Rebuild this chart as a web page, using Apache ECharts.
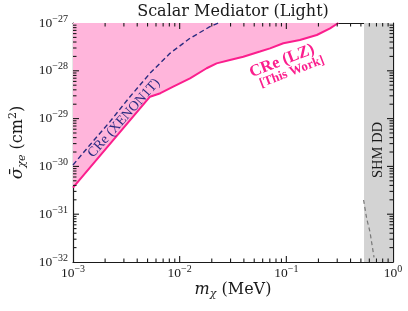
<!DOCTYPE html>
<html><head><meta charset="utf-8">
<script src="https://cdn.jsdelivr.net/npm/echarts@6/dist/echarts.min.js"></script>
<style>html,body{margin:0;padding:0;background:#fff}#c{width:408px;height:311px}</style>
</head><body><div id="c"></div>
<script>
// ---- data ----
// x: m_chi in MeV ; y: sigma_chi_e in cm^2
const lzMass   = [1e-3, 5.27e-3, 6.6e-3, 8.7e-3, 1.25e-2, 1.79e-2, 2.22e-2, 2.96e-2, 3.95e-2, 5.66e-2, 7.03e-2, 9.37e-2, 0.134, 0.193, 0.257, 0.307];
const lzSigma  = [3.58e-31, 2.87e-29, 3.4e-29, 4.65e-29, 6.97e-29, 1.13e-28, 1.43e-28, 1.68e-28, 1.97e-28, 2.53e-28, 2.95e-28, 3.76e-28, 4.41e-28, 5.61e-28, 7.75e-28, 1e-27];
const xenonMass  = [1e-3, 1.44e-3, 2.22e-3, 3.42e-3, 5.27e-3, 8.11e-3, 1.25e-2, 1.92e-2, 2.30e-2];
const xenonSigma = [1.07e-30, 2.81e-30, 8.62e-30, 2.87e-29, 8.87e-29, 2.32e-28, 4.79e-28, 8.37e-28, 1e-27];
const shmMass  = [0.53, 0.566, 0.608, 0.664];
const shmSigma = [1.98e-31, 8.2e-32, 4.3e-32, 1.25e-32];
const shmBand  = [0.535, 1];
const xTickExps = [-3, -2, -1, 0];
const yTickExps = [-32, -31, -30, -29, -28, -27];
const minorMult = [2, 3, 4, 5, 6, 7, 8, 9];

// y axis is plotted in units of 1e-32 cm^2 (avoids float rounding of tiny log ticks); labels show true exponents
const Y_EXP0 = yTickExps[0];
const Y_UNIT = Math.pow(10, Y_EXP0);
const ys = v => v / Y_UNIT;

const xMajor = xTickExps.map(e => Math.pow(10, e));
const yMajor = yTickExps.map(e => Math.pow(10, e - Y_EXP0));
const xMinor = [];
xTickExps.slice(0, -1).forEach(e => minorMult.forEach(m => xMinor.push(m * Math.pow(10, e))));
const yMinor = [];
yTickExps.slice(0, -1).forEach(e => minorMult.forEach(m => yMinor.push(m * Math.pow(10, e - Y_EXP0))));

const serif = '"Liberation Serif", "DejaVu Serif", serif';
const dserif = '"DejaVu Serif", "Liberation Serif", serif';
const ink = '#1a1a1a';
const pink = '#fb1e8d';
function expStr(e) { return e < 0 ? '\u2212' + (-e) : String(e); }
function xLabel(v) { return '10{sup|' + expStr(Math.round(Math.log10(v))) + '}'; }
function yLabel(v) { return '10{sup|' + expStr(Math.round(Math.log10(v)) + Y_EXP0) + '}'; }
const labelRich = { sup: { fontSize: 10, lineHeight: 10, verticalAlign: 'top', fontFamily: serif, color: ink } };

function zip(a, b) { return a.map((v, i) => [v, ys(b[i])]); }

function axisCommon(pos, show, fmt, margin) {
  return {
    type: 'log', logBase: 10, position: pos, gridIndex: 0, nameMoveOverlap: false,
    axisLine: { show: true, onZero: false, lineStyle: { color: ink, width: 1.2 } },
    axisTick: { show: false },
    axisLabel: { show: show, formatter: fmt, margin: margin, fontFamily: serif, fontSize: 13.5, color: ink, lineHeight: 18, rich: labelRich },
    splitLine: { show: false }, minorTick: { show: false }
  };
}
function xAxisDef(pos, show) {
  const a = axisCommon(pos, show, xLabel, 2);
  a.min = xMajor[0]; a.max = xMajor[xMajor.length - 1];
  return a;
}
function yAxisDef(pos, show) {
  const a = axisCommon(pos, show, yLabel, 5);
  a.min = yMajor[0]; a.max = yMajor[yMajor.length - 1];
  return a;
}

const xa0 = xAxisDef('bottom', true);
xa0.name = '{i|m}{sub|\u03c7} (MeV)';
xa0.nameLocation = 'middle';
xa0.nameGap = 18;
xa0.nameTextStyle = { fontFamily: dserif, fontSize: 16, color: ink, lineHeight: 20,
  rich: { i: { fontFamily: dserif, fontSize: 16, fontStyle: 'italic', color: ink, lineHeight: 20 },
          sub: { fontFamily: dserif, fontSize: 11, fontStyle: 'italic', color: ink, lineHeight: 11, verticalAlign: 'bottom' } } };

const ya0 = yAxisDef('left', true);
ya0.name = '{i|\u03c3\u0304}{sub|\u03c7e} (cm{sup|2})';
ya0.nameLocation = 'middle';
ya0.nameGap = 45;
ya0.nameRotate = 90;
ya0.nameTextStyle = { fontFamily: dserif, fontSize: 16, color: ink, lineHeight: 20,
  rich: { i: { fontFamily: dserif, fontSize: 17, fontStyle: 'italic', color: ink, lineHeight: 20 },
          sub: { fontFamily: dserif, fontSize: 11, fontStyle: 'italic', color: ink, lineHeight: 11, verticalAlign: 'bottom' },
          sup: { fontFamily: dserif, fontSize: 11, color: ink, lineHeight: 11, verticalAlign: 'top' } } };

function tickRenderer(params, api) {
  const cs = params.coordSys;
  const ch = [];
  const yRef = yMajor[2], xRef = xMajor[1];
  function addX(v, L) {
    const px = api.coord([v, yRef])[0];
    ch.push({ type: 'line', shape: { x1: px, y1: cs.y + cs.height, x2: px, y2: cs.y + cs.height - L }, style: { stroke: ink, lineWidth: 1.1 } });
    ch.push({ type: 'line', shape: { x1: px, y1: cs.y, x2: px, y2: cs.y + L }, style: { stroke: ink, lineWidth: 1.1 } });
  }
  function addY(v, L) {
    const py = api.coord([xRef, v])[1];
    ch.push({ type: 'line', shape: { x1: cs.x, y1: py, x2: cs.x + L, y2: py }, style: { stroke: ink, lineWidth: 1.1 } });
    ch.push({ type: 'line', shape: { x1: cs.x + cs.width, y1: py, x2: cs.x + cs.width - L, y2: py }, style: { stroke: ink, lineWidth: 1.1 } });
  }
  xMajor.slice(1, -1).forEach(v => addX(v, 6));
  xMinor.forEach(v => addX(v, 3.5));
  yMajor.slice(1, -1).forEach(v => addY(v, 6));
  yMinor.forEach(v => addY(v, 3.5));
  return { type: 'group', children: ch };
}

const option = {
  animation: false,
  backgroundColor: '#fff',
  grid: { left: 73, right: 15, top: 23, bottom: 49, containLabel: false, outerBoundsMode: 'none' },
  xAxis: [xa0, xAxisDef('top', false)],
  yAxis: [ya0, yAxisDef('right', false)],
  graphic: [
    { type: 'text', x: 233, y: 12, z: 20, style: { text: 'Scalar Mediator (Light)', font: '16px ' + dserif, fill: ink, align: 'center', verticalAlign: 'middle' } },
    { type: 'text', x: 124, y: 118, rotation: 48 * Math.PI / 180, z: 20, style: { text: 'CRe (XENON1T)', font: '13.8px ' + serif, fill: '#2b2b80', align: 'center', verticalAlign: 'middle' } },
    { type: 'text', x: 282, y: 61, rotation: 21 * Math.PI / 180, z: 20, style: { text: 'CRe (LZ)', font: 'bold 16.5px ' + serif, fill: pink, align: 'center', verticalAlign: 'middle' } },
    { type: 'text', x: 292, y: 72, rotation: 21 * Math.PI / 180, z: 20, style: { text: '[This Work]', font: 'bold 13px ' + serif, fill: pink, align: 'center', verticalAlign: 'middle' } },
    { type: 'text', x: 378, y: 150, rotation: Math.PI / 2, z: 20, style: { text: 'SHM DD', font: '14.5px ' + serif, fill: ink, align: 'center', verticalAlign: 'middle' } }
  ],
  series: [
    { name: 'LZ', type: 'line', data: zip(lzMass, lzSigma), showSymbol: false, symbol: 'none', z: 3,
      lineStyle: { color: pink, width: 2 }, areaStyle: { color: '#ffb5db', opacity: 1, origin: ys(1e-27) } },
    { name: 'SHMband', type: 'line', data: [], showSymbol: false, symbol: 'none', z: 3,
      markArea: { silent: true, itemStyle: { color: '#d3d3d3', opacity: 1 }, data: [[{ xAxis: shmBand[0] }, { xAxis: shmBand[1] }]] } },
    { name: 'ticks', type: 'custom', clip: false, z: 10, silent: true, data: [[xMajor[1], yMajor[2]]], renderItem: tickRenderer },
    { name: 'XENON1T', type: 'line', data: zip(xenonMass, xenonSigma), showSymbol: false, symbol: 'none', z: 12,
      lineStyle: { color: '#2b2b80', width: 1.4, type: [5, 3] } },
    { name: 'SHM', type: 'line', data: zip(shmMass, shmSigma), showSymbol: false, symbol: 'none', z: 12,
      lineStyle: { color: '#777', width: 1.2, type: [4, 3] } }
  ]
};
const chart = echarts.init(document.getElementById('c'));
chart.setOption(option);
</script>
</body></html>
